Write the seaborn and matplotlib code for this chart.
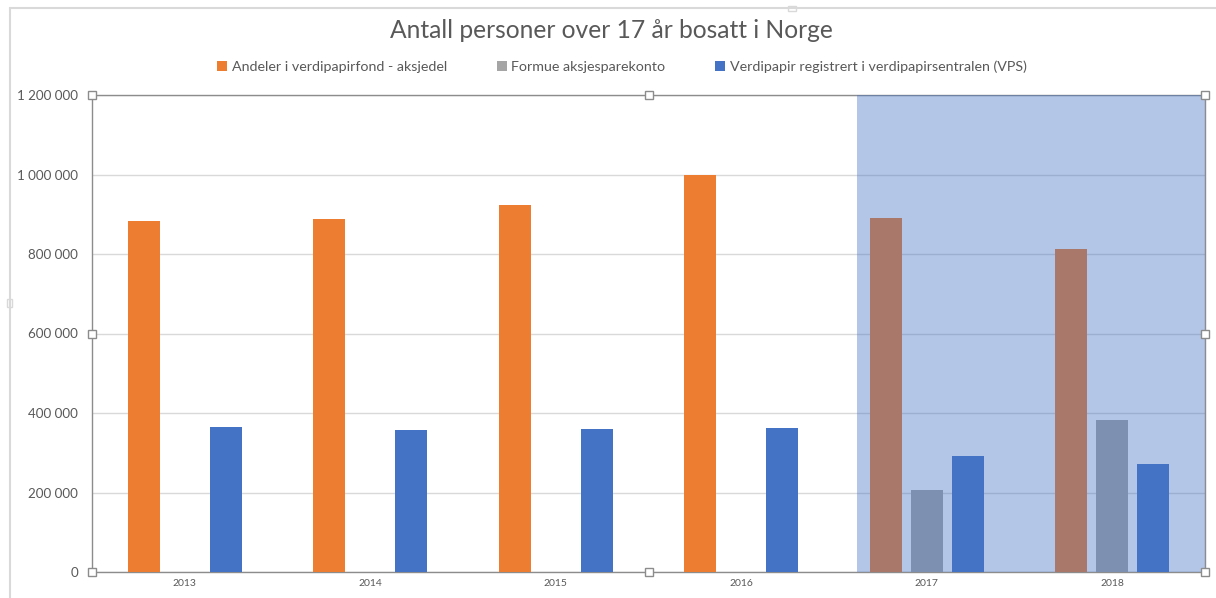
import numpy as np
import pandas as pd
import seaborn as sns
import matplotlib.pyplot as plt
from matplotlib.patches import Rectangle

years = ['2013', '2014', '2015', '2016', '2017', '2018']
andeler = [882000, 888000, 923000, 999000, 891000, 813000]
formue = [np.nan, np.nan, np.nan, np.nan, 207000, 383000]
vps = [365000, 357000, 360000, 362000, 291000, 272000]
series = ['Andeler i verdipapirfond - aksjedel',
          'Formue aksjesparekonto',
          'Verdipapir registrert i verdipapirsentralen (VPS)']
colors = ['#ED7D31', '#A5A5A5', '#4472C4']
yticks = [0, 200000, 400000, 600000, 800000, 1000000, 1200000]

df = pd.DataFrame({
    'year': years * 3,
    'serie': [series[0]] * 6 + [series[1]] * 6 + [series[2]] * 6,
    'value': andeler + formue + vps,
})

sns.set_style('white')
plt.rcParams['font.family'] = ['Lato', 'DejaVu Sans']

fig = plt.figure(figsize=(12.16, 5.98), dpi=100)
ax = fig.add_axes([92 / 1216, 26 / 598, 1113 / 1216, 477 / 598])

sns.barplot(data=df, x='year', y='value', hue='serie', hue_order=series,
            palette=colors, width=0.663, gap=0.22, errorbar=None,
            saturation=1, linewidth=0, ax=ax, zorder=3)

ax.set_xlim(-0.5, 5.5)
ax.set_ylim(0, 1200000)
ax.set_yticks(yticks)
ax.set_yticklabels(['{:,}'.format(v).replace(',', ' ') for v in yticks])
ax.set_xlabel('')
ax.set_ylabel('')
ax.yaxis.grid(True, color='#D9D9D9', linewidth=1, zorder=0)
ax.set_axisbelow(True)
ax.tick_params(axis='y', length=0, pad=10, labelsize=9.6, labelcolor='#595959')
ax.tick_params(axis='x', length=0, pad=5, labelsize=7.5, labelcolor='#595959')
for s in ax.spines.values():
    s.set_color('#8C8C8C')
    s.set_linewidth(1)

# selected shape over 2017-2018
ax.axvspan(3.624, 5.5, color='#4472C4', alpha=0.4, linewidth=0, zorder=5)

# selection handles
hx = [0, 0.5, 1, 0, 1, 0, 0.5, 1]
hy = [1, 1, 1, 0.5, 0.5, 0, 0, 0]
ax.plot(hx, hy, 's', transform=ax.transAxes, clip_on=False, ms=6,
        mfc='white', mec='#8C8C8C', mew=1, zorder=10)

# outer chart frame
fig.add_artist(plt.Line2D([10 / 1216, 10 / 1216], [0, 1 - 8 / 598],
                          transform=fig.transFigure, color='#D9D9D9', lw=1.5))
fig.add_artist(plt.Line2D([10 / 1216, 1], [1 - 8 / 598, 1 - 8 / 598],
                          transform=fig.transFigure, color='#D9D9D9', lw=1.5))
fig.add_artist(Rectangle((7 / 1216, 1 - 307 / 598), 5 / 1216, 8 / 598,
                         transform=fig.transFigure, facecolor='white',
                         edgecolor='#D9D9D9', lw=1))
fig.add_artist(Rectangle((788 / 1216, 1 - 11 / 598), 8 / 1216, 5 / 598,
                         transform=fig.transFigure, facecolor='white',
                         edgecolor='#D9D9D9', lw=1))

fig.text(0.503, 1 - 31 / 598, 'Antall personer over 17 år bosatt i Norge',
         ha='center', va='center', fontsize=17.7, color='#595959')

handles, labels = ax.get_legend_handles_labels()
ax.legend(handles, labels, loc='center', bbox_to_anchor=(622 / 1216, 1 - 67 / 598),
          bbox_transform=fig.transFigure, ncol=3, frameon=False,
          handlelength=0.7, handleheight=0.7, handletextpad=0.3,
          columnspacing=3.5, fontsize=10.3, labelcolor='#595959')

fig.savefig('out.png', dpi=100)
